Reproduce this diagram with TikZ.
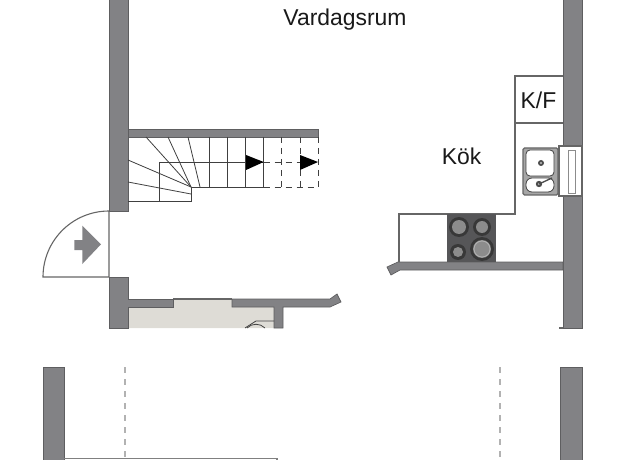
\documentclass[tikz,border=0pt]{standalone}
\usepackage{xcolor}
\usepackage{fontspec}
\setmainfont{Liberation Sans}
\usetikzlibrary{calc}
\definecolor{wallgray}{HTML}{828285}
\definecolor{wallline}{HTML}{5E5E60}
\definecolor{hobgray}{HTML}{565658}
\definecolor{floorbeige}{HTML}{DEDCD6}
\begin{document}
\begin{tikzpicture}[x=1pt,y=-1pt]
  \tikzset{wall/.style={fill=wallgray,draw=wallline,line width=0.7pt},
    thin line/.style={draw=black!75,line width=0.8pt},
    fit line/.style={draw=black!60,line width=1.1pt},
    dash line/.style={thin line,dash pattern=on 6pt off 5pt},
    room/.style={font=\fontsize{22.9}{24}\selectfont,text=black!90,inner sep=0pt},
    burner/.style={fill=black!78,draw=none}};
  \useasboundingbox (0,0) rectangle (625,460);
  % floor of the hall
  \fill[floorbeige] (128,307) -- (173,307) -- (173,299) -- (232,299) -- (232,307) -- (274,307) -- (274,328) -- (128,328) -- cycle;
  \draw[fit line] (173,299) -- (232,299);
  % walls
  \draw[wall] (109,-2) rectangle (128,211);
  \draw[wall] (109,277) -- (128,277) -- (128,299) -- (173,299) -- (173,307) -- (128,307) -- (128,328) -- (109,328) -- cycle;
  \draw[wall] (232,299) -- (330,299) -- (337,294) -- (341,302) -- (330,307) -- (283,307) -- (283,328) -- (274,328) -- (274,307) -- (232,307) -- cycle;
  \draw[wall] (563,-2) rectangle (582,146);
  \draw[wall] (563,196) rectangle (582,328);
  \draw[wall] (387,267) -- (398,262) -- (563,262) -- (563,270) -- (400,270) -- (391,275) -- cycle;
  \draw[wall] (128,129) rectangle (318,137);
  \draw[wall] (43,367) rectangle (64,462);
  \draw[wall] (560,367) rectangle (582,462);
  \draw[fit line] (559,328) -- (563,328);
  % window
  \draw[fit line,fill=white] (559,146) rectangle (582,196);
  \draw[draw=black!45,line width=0.8pt] (568,150) rectangle (575,193);
  % front door
  \draw[fit line] (109,211) -- (109,277) -- (43,277) arc (180:270:66);
  \fill[wallgray] (74.3,240) -- (82.3,240) -- (82.3,225.7) -- (101,244.3) -- (82.3,264) -- (82.3,250) -- (74.3,250) -- cycle;
  % stairs
  \foreach \x in {209.3,227.7,245.7,263.7} \draw[thin line] (\x,137) -- (\x,187);
  \foreach \x in {281.7,300,318} \draw[dash line] (\x,137) -- (\x,187);
  \draw[thin line] (263.7,162) -- (159,162) -- (159,201);
  \draw[thin line] (263.7,187) -- (191,187) -- (191,201) -- (128,201);
  \draw[dash line] (263.7,162) -- (318,162);
  \draw[dash line] (263.7,187) -- (318,187);
  \draw[thin line] (146,137) -- (191,187);
  \draw[thin line] (168,137) -- (191,187);
  \draw[thin line] (188,137) -- (200,187);
  \draw[thin line] (128,160) -- (191,187);
  \draw[thin line] (128,182) -- (191,194);
  \fill[black] (246,155) -- (263.7,162) -- (246,170) -- cycle;
  \fill[black] (300,155) -- (318,162) -- (300,170) -- cycle;
  % kitchen
  \draw[fit line] (563,76) -- (515,76) -- (515,214) -- (399,214) -- (399,262);
  \draw[fit line] (515,123) -- (563,123);
  \fill[hobgray] (447,214) rectangle (496,262);
  \foreach \cx/\cy/\r in {459/227/10,482/227/9,458/252/8,482/249/12} {
    \fill[burner] (\cx,\cy) circle (\r);
    \fill[black!45] (\cx,\cy) circle (\r-3);
  }
  \draw[black!30,line width=0.8pt] (482,249) circle (8);
  % sink
  \draw[fit line,fill=black!35,rounded corners=1.5pt] (523,148) rectangle (558,195);
  \draw[thin line,fill=white,rounded corners=4pt] (526,150) rectangle (554,176);
  \draw[thin line,fill=white,rounded corners=6pt] (526,178) rectangle (554,192);
  \fill[black!70] (541,163) circle (3);
  \fill[black!25] (541,163) circle (1.2);
  \fill[black!70] (539,184) circle (3.2);
  \fill[black!25] (539,184) circle (1.2);
  \draw[black!70,line width=1.3pt] (539,184) -- (552,178);
  % wc, cut off
  \draw[thin line] (274,321) -- (256,321) -- (245,328);
  \draw[thin line] (247,328) .. controls (252,323) and (260,323) .. (265,328);
  % lower floor
  \draw[black!30,line width=1.2pt,dash pattern=on 6pt off 6pt] (125,367) -- (125,460);
  \draw[black!30,line width=1.2pt,dash pattern=on 6pt off 6pt] (500,367) -- (500,460);
  \draw[draw=black!50,line width=1.2pt] (64,458.5) -- (277,458.5) -- (277,460);
  % texts
  \node (vardagsrum) at (345,20) [room] {Vardagsrum};
  \node (kok) at (461.5,156) [room] {Kök};
  \node (kf) at (538.5,100) [room] {K/F};
\end{tikzpicture}
\end{document}
